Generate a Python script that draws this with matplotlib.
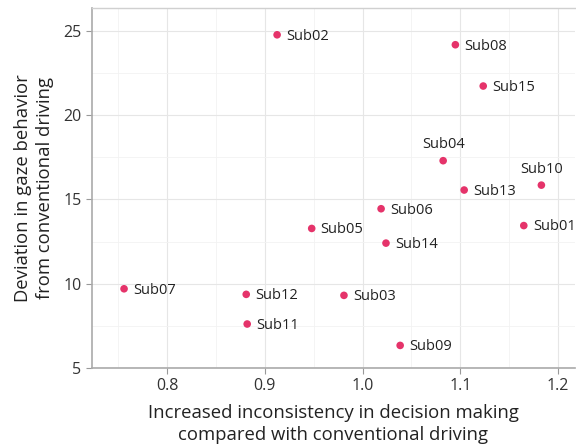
import matplotlib
matplotlib.use("Agg")
import matplotlib.pyplot as plt
from matplotlib.ticker import MultipleLocator

labels = ["Sub01", "Sub02", "Sub03", "Sub04", "Sub05", "Sub06", "Sub07", "Sub08",
          "Sub09", "Sub10", "Sub11", "Sub12", "Sub13", "Sub14", "Sub15"]
x_vals = [1.165, 0.9126, 0.981, 1.0825, 0.948, 1.019, 0.756, 1.095,
          1.0385, 1.183, 0.882, 0.881, 1.104, 1.024, 1.1235]
y_vals = [13.45, 24.77, 9.31, 17.30, 13.28, 14.45, 9.70, 24.18,
          6.34, 15.85, 7.61, 9.37, 15.56, 12.41, 21.73]
above = {"Sub04", "Sub10"}

x_ticks = [0.8, 0.9, 1.0, 1.1, 1.2]
x_ticklabels = ["0.8", "0.9", "1.0", "1.1", "1.2"]
y_ticks = [5, 10, 15, 20, 25]

plt.rcParams['font.family'] = ['Open Sans', 'DejaVu Sans']

fig = plt.figure(figsize=(5.76, 4.48), dpi=100)
ax = fig.add_axes([92/576, 1-368/448, 483/576, 360/448])

ax.scatter(x_vals, y_vals, s=30, color="#E5336A", edgecolors="none", zorder=3)
for lab, xv, yv in zip(labels, x_vals, y_vals):
    if lab in above:
        ax.annotate(lab, (xv, yv), xytext=(0, 6), textcoords="offset points",
                    ha="center", va="bottom", fontsize=10.5, color="#222222")
    else:
        ax.annotate(lab, (xv, yv), xytext=(6.5, -1), textcoords="offset points",
                    ha="left", va="center", fontsize=10.5, color="#222222")

ax.set_xlim(0.7232, 1.2174)
ax.set_ylim(5, 26.36)
ax.set_xticks(x_ticks)
ax.set_xticklabels(x_ticklabels)
ax.set_yticks(y_ticks)
ax.xaxis.set_minor_locator(MultipleLocator(0.05))
ax.yaxis.set_minor_locator(MultipleLocator(2.5))
ax.grid(True, which="major", color="#e6e6e6", linewidth=0.8)
ax.grid(True, which="minor", color="#f2f2f2", linewidth=0.6)
ax.set_axisbelow(True)
ax.tick_params(which="minor", length=0)
ax.tick_params(which="major", length=4, color="#999999", labelsize=11.5,
               labelcolor="#333333", width=0.8)

for s in ["left", "bottom"]:
    ax.spines[s].set_color("#aaaaaa")
    ax.spines[s].set_linewidth(1.2)
ax.spines["top"].set_color("#d0d0d0")
ax.spines["top"].set_linewidth(1.0)
ax.spines["right"].set_visible(False)

ax.set_xlabel("Increased inconsistency in decision making\ncompared with conventional driving",
              fontsize=13.3, color="#222222", labelpad=7, linespacing=1.25)
ax.set_ylabel("Deviation in gaze behavior\nfrom conventional driving",
              fontsize=13.3, color="#222222", labelpad=7, linespacing=1.25)

fig.savefig("out.png", dpi=100)
